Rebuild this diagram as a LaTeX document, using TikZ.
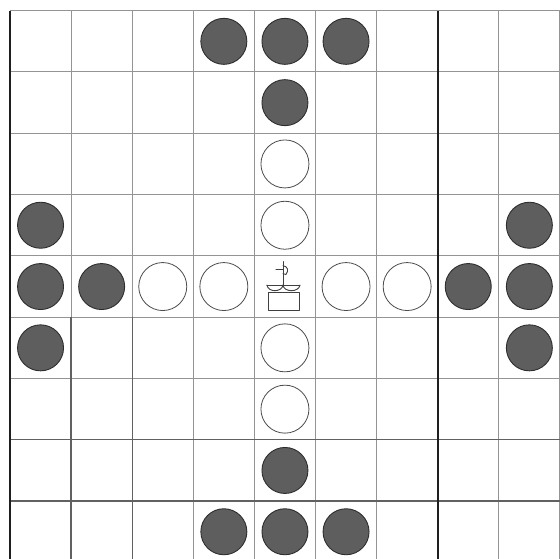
\documentclass[tikz,border=0pt]{standalone}
\begin{document}
\begin{tikzpicture}[x=1pt,y=-1pt,
  gridline/.style={draw=black!42,line width=1pt},
  midline/.style={draw=black!62,line width=1.3pt},
  boldline/.style={draw=black!88,line width=2.4pt},
  darkpiece/.style={circle,fill=black!63,draw=black!82,line width=0.9pt,minimum size=46pt,inner sep=0pt},
  lightpiece/.style={circle,fill=white,draw=black!70,line width=0.8pt,minimum size=48pt,inner sep=0pt},
  kingline/.style={draw=black!75,line width=0.9pt,line cap=round,line join=round}]
\useasboundingbox (0,0) rectangle (560,559);
\fill[white] (0,0) rectangle (560,559);
\begin{scope}
\clip (0,0) rectangle (560,559);
% grid corners
\foreach \i in {0,...,9} {
  \coordinate (vt\i) at ({10+61.1*\i},10.7);
  \coordinate (vb\i) at ({10+61.1*\i},562);
}
\foreach \j in {0,...,8} {
  \coordinate (hl\j) at (10,{10.7+61.3*\j});
  \coordinate (hr\j) at (562,{10.7+61.3*\j});
}
\foreach \i in {1,2,3,4,5,6,8,9} { \draw[gridline] (vt\i) -- (vb\i); }
\foreach \j in {0,...,8} { \draw[gridline] (hl\j) -- (hr\j); }
\coordinate (m1) at ({10+61.1*1},{10.7+61.3*5});
\coordinate (m2) at ({10+61.1*2},{10.7+61.3*5});
\draw[midline] (m1) -- (vb1);
\draw[midline] (m2) -- (vb2);
\draw[midline] (hl8) -- (hr8);
\draw[midline] (hl7) -- (hr7);
\draw[boldline] (vt0) -- (vb0);
\draw[boldline] (vt7) -- (vb7);
\end{scope}
% dark pieces
\foreach \r/\c in {0/3,0/4,0/5,1/4,3/0,3/8,4/0,4/1,4/7,4/8,5/0,5/8,7/4,8/3,8/4,8/5} {
  \node[darkpiece] (d-\r-\c) at ({10+61.1*(\c+0.5)},{10.7+61.3*(\r+0.5)}) {};
}
% light pieces
\foreach \r/\c in {2/4,3/4,4/2,4/3,4/5,4/6,5/4,6/4} {
  \node[lightpiece] (w-\r-\c) at ({10+61.1*(\c+0.5)},{10.7+61.3*(\r+0.5)}) {};
}
% king
\coordinate (king) at ({10+61.1*4.5},{10.7+61.3*4.5});
\begin{scope}[shift={(king)}]
  \draw[kingline] (-17,24) rectangle (14.5,5.5);
  \draw[kingline] (-18,-1.5) -- (15,-1.5);
  \draw[kingline] (-18,-1.5) .. controls (-17,6) and (-3,6) .. (-2,-1.5);
  \draw[kingline] (-2,-1.5) .. controls (-1,6) and (14,6) .. (15,-1.5);
  \draw[kingline] (-2,-1.5) -- (-2,-25);
  \draw[kingline] (-9,-17) -- (-2,-17);
  \draw[kingline] (-2,-21) .. controls (3,-20) and (4,-16) .. (1,-12) -- (-2,-13);
\end{scope}
\end{tikzpicture}
\end{document}
